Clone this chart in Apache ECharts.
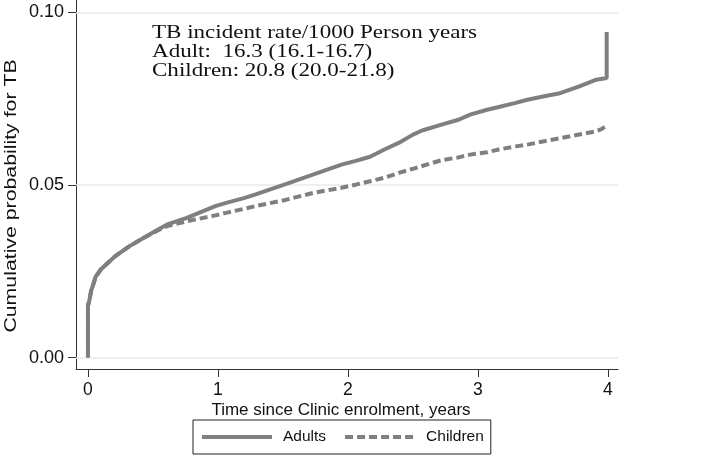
<!DOCTYPE html>
<html><head><meta charset="utf-8">
<script src="https://cdn.jsdelivr.net/npm/echarts@6/dist/echarts.min.js"></script>
<style>html,body{margin:0;padding:0;background:#fff}#c{width:709px;height:469px}</style>
</head><body><div id="c"></div>
<script>
const seriesNames = ['Adults', 'Children'];
const timeAdults = [0, 0, 0.013, 0.024, 0.046, 0.057, 0.10, 0.21, 0.32, 0.43, 0.54, 0.61, 0.76, 0.98, 1.07, 1.20, 1.29, 1.51, 1.73, 1.95, 2.06, 2.17, 2.28, 2.39, 2.50, 2.57, 2.72, 2.85, 2.94, 3.07, 3.16, 3.29, 3.38, 3.51, 3.62, 3.78, 3.91, 3.99, 3.99];
const probAdults = [0, 0.015, 0.0169, 0.0193, 0.0218, 0.0233, 0.0256, 0.0294, 0.0323, 0.0347, 0.0371, 0.0386, 0.0405, 0.0439, 0.0449, 0.0462, 0.0473, 0.0501, 0.0530, 0.0559, 0.0570, 0.0582, 0.0603, 0.0622, 0.0646, 0.0658, 0.0675, 0.0689, 0.0704, 0.0718, 0.0726, 0.0738, 0.0747, 0.0757, 0.0765, 0.0786, 0.0805, 0.0810, 0.0943];
const timeChildren = [0, 0, 0.013, 0.024, 0.046, 0.057, 0.10, 0.21, 0.32, 0.43, 0.54, 0.61, 0.76, 0.98, 1.07, 1.20, 1.29, 1.51, 1.73, 1.95, 2.06, 2.17, 2.28, 2.39, 2.50, 2.72, 2.85, 2.94, 3.07, 3.16, 3.29, 3.38, 3.51, 3.64, 3.80, 3.90, 3.95, 3.99];
const probChildren = [0, 0.015, 0.0169, 0.0193, 0.0218, 0.0233, 0.0256, 0.0294, 0.0323, 0.0347, 0.0369, 0.0381, 0.0395, 0.0412, 0.0420, 0.0431, 0.0439, 0.0456, 0.0477, 0.0492, 0.0501, 0.0511, 0.0521, 0.0535, 0.0547, 0.0572, 0.0580, 0.0588, 0.0595, 0.0603, 0.0612, 0.0617, 0.0627, 0.0636, 0.0648, 0.0655, 0.0662, 0.0672];
const xTicks = [0, 1, 2, 3, 4];
const yTicks = [0, 0.05, 0.10];
const xTitle = 'Time since Clinic enrolment, years';
const yTitle = 'Cumulative probability for TB';
const noteLines = ['TB incident rate/1000 Person years', 'Adult:  16.3 (16.1-16.7)', 'Children: 20.8 (20.0-21.8)'];

const pairs = (xs, ys) => xs.map((x, i) => [x, ys[i]]);
const GRAY = '#7f7f7f';
const sans = 'Liberation Sans, Arial, sans-serif';
const serif = 'Liberation Serif, Times New Roman, serif';

const chart = echarts.init(document.getElementById('c'), null, {renderer: 'canvas'});
chart.setOption({
  backgroundColor: '#ffffff',
  animation: false,
  grid: {left: 76, right: 91, top: 0, bottom: 100, containLabel: false},
  xAxis: {
    type: 'value', min: -0.092, max: 4.077,
    axisLine: {show: true, onZero: false, lineStyle: {color: '#333', width: 1}},
    axisTick: {show: true, customValues: xTicks, length: 8, lineStyle: {color: '#333'}},
    axisLabel: {show: true, customValues: xTicks, margin: 12, color: '#111', fontSize: 17.5, fontFamily: sans},
    splitLine: {show: false}
  },
  yAxis: {
    type: 'value', min: -0.0033, max: 0.1036,
    axisLine: {show: true, onZero: false, lineStyle: {color: '#333', width: 1}},
    axisTick: {show: true, customValues: yTicks, length: 8, lineStyle: {color: '#333'}},
    axisLabel: {show: true, customValues: yTicks, margin: 12, color: '#111', fontSize: 18, fontFamily: sans,
      formatter: v => v.toFixed(2)},
    splitLine: {show: false}
  },
  legend: {
    left: 193, top: 420,
    data: seriesNames,
    orient: 'horizontal',
    itemWidth: 70, itemHeight: 14, itemGap: 17,
    padding: [9, 7, 9, 7],
    borderColor: '#222', borderWidth: 1,
    textStyle: {fontSize: 15.5, color: '#111', fontFamily: sans, padding: [0, 0, 0, 6]},
    itemStyle: {opacity: 0},
    lineStyle: {width: 4, opacity: 1}
  },
  graphic: [
    {type: 'rect', shape: {x: 140, y: 2, width: 345, height: 80}, style: {fill: '#fff'}, z: 5, silent: true},
    {type: 'text', x: 152, y: 33, scaleX: 1.28, z: 6, style: {text: noteLines[0], font: '18px ' + serif, fill: '#111', textVerticalAlign: 'middle'}},
    {type: 'text', x: 152, y: 52, scaleX: 1.28, z: 6, style: {text: noteLines[1], font: '18px ' + serif, fill: '#111', textVerticalAlign: 'middle'}},
    {type: 'text', x: 152, y: 71, scaleX: 1.28, z: 6, style: {text: noteLines[2], font: '18px ' + serif, fill: '#111', textVerticalAlign: 'middle'}},
    {type: 'text', x: 341, y: 410, z: 6, style: {text: xTitle, font: '17px ' + sans, fill: '#111', textAlign: 'center', textVerticalAlign: 'middle'}},
    {type: 'text', x: 12, y: 196, rotation: Math.PI / 2, scaleX: 1.33, z: 6, style: {text: yTitle, font: '16px ' + sans, fill: '#111', textAlign: 'center', textVerticalAlign: 'middle'}}
  ],
  series: [
    {
      name: 'grid', type: 'line', data: [], z: 1, silent: true,
      markLine: {silent: true, symbol: 'none', label: {show: false},
        lineStyle: {color: '#e3ecec', type: 'solid', width: 1.5},
        data: yTicks.map(v => ({yAxis: v}))}
    },
    {
      name: seriesNames[1], type: 'line', data: pairs(timeChildren, probChildren),
      symbol: 'none', smooth: false, z: 10,
      lineStyle: {color: GRAY, width: 4, type: [8, 4]}, itemStyle: {color: GRAY}
    },
    {
      name: seriesNames[0], type: 'line', data: pairs(timeAdults, probAdults),
      symbol: 'none', smooth: false, z: 11,
      lineStyle: {color: GRAY, width: 4, type: 'solid'}, itemStyle: {color: GRAY}
    }
  ]
});
</script></body></html>
